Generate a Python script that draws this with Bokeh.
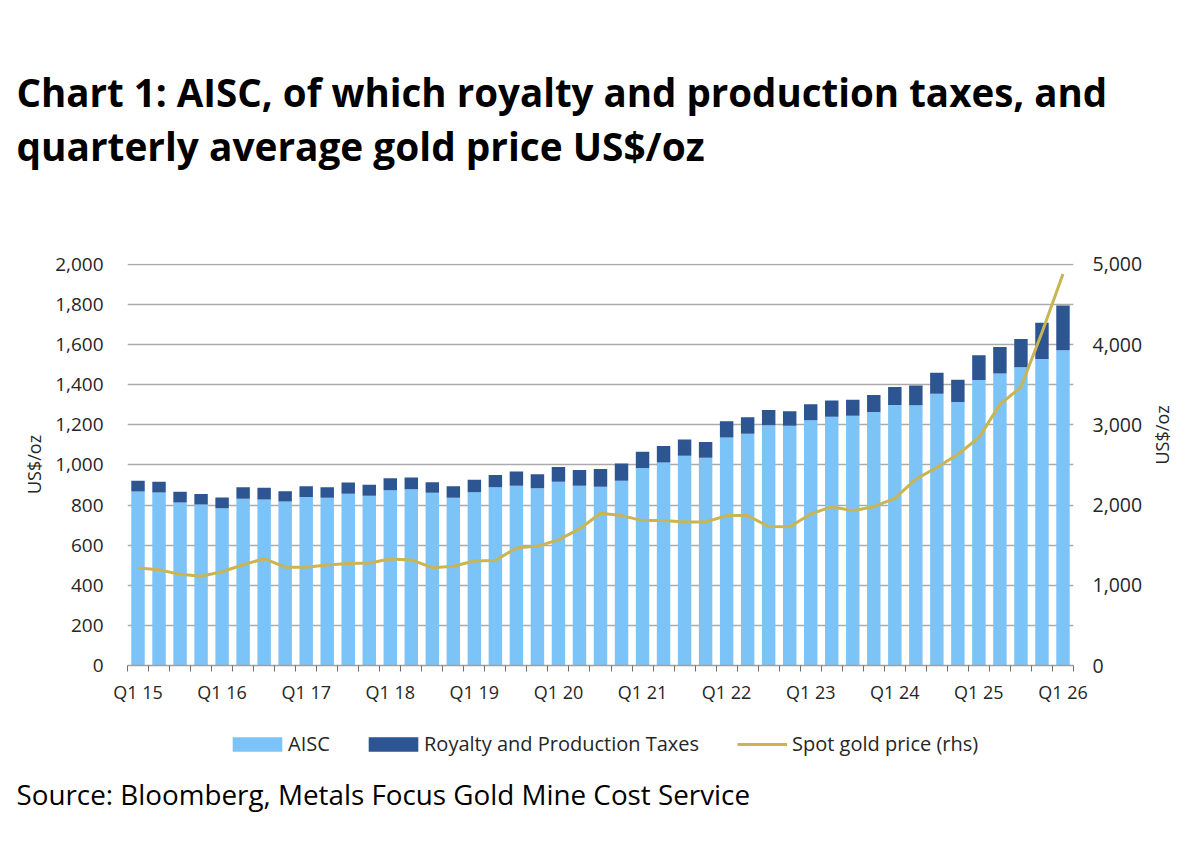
import numpy as np
from bokeh.plotting import figure
from bokeh.layouts import column
from bokeh.models import (ColumnDataSource, Range1d, LinearAxis, FixedTicker,
                          NumeralTickFormatter, Title, Legend, LegendItem)
from bokeh.embed import file_html
from bokeh.resources import INLINE

# quarters Q1 15 .. Q1 26
quarters = [f"Q{q} {y}" for y in range(15, 27) for q in range(1, 5)][:45]

# AISC excluding royalties (US$/oz, lhs)
aisc = [868, 863, 813, 802, 784, 831, 828, 817, 840, 836, 856, 846, 874, 879, 861,
        836, 864, 888, 896, 883, 916, 896, 891, 921, 984, 1012, 1045, 1036, 1136, 1155,
        1198, 1195, 1222, 1240, 1245, 1264, 1298, 1297, 1355, 1313, 1423, 1456, 1487,
        1528, 1572]

# royalty and production taxes (US$/oz, lhs)
royalty = [53, 53, 53, 53, 54, 57, 58, 52, 53, 53, 56, 55, 60, 58, 53,
           57, 62, 62, 71, 71, 74, 79, 88, 86, 81, 82, 82, 78, 81, 83,
           76, 73, 80, 81, 80, 84, 90, 99, 104, 111, 124, 132, 141, 181, 223]

# spot gold price, quarterly average (US$/oz, rhs)
gold = [1215, 1194, 1136, 1112, 1168, 1256, 1331, 1225, 1225, 1252, 1270, 1277, 1327,
        1316, 1219, 1236, 1302, 1310, 1465, 1488, 1566, 1702, 1897, 1868, 1806, 1806,
        1789, 1789, 1868, 1868, 1732, 1730, 1888, 1979, 1929, 1979, 2082, 2322, 2467,
        2633, 2840, 3254, 3470, 4150, 4880]

FONT = "Open Sans"
TXT = "#262626"
C_AISC = "#7CC3F7"
C_ROY = "#2D5592"
C_GOLD = "#C9B553"
W = 1191
BL, BR = 127, 118   # frame borders, shared by both blocks

x = np.arange(len(quarters))
aisc_a = np.array(aisc)
src = ColumnDataSource(data=dict(
    x=x, aisc=aisc_a, top=aisc_a + np.array(royalty), gold=gold))

# ---- main chart (with the two-line title above it)
p = figure(width=W, height=710, x_range=Range1d(-0.5, len(quarters) - 0.5),
           y_range=Range1d(0, 2004), output_backend="svg", toolbar_location=None,
           min_border_left=BL, min_border_right=BR, min_border_top=263,
           min_border_bottom=45, outline_line_color=None)
p.extra_y_ranges = {"gold": Range1d(0, 5010)}

p.vbar(x="x", bottom=0, top="aisc", width=0.64, source=src,
       fill_color=C_AISC, line_color=None)
p.vbar(x="x", bottom="aisc", top="top", width=0.64, source=src,
       fill_color=C_ROY, line_color=None)
p.line(x="x", y="gold", source=src, y_range_name="gold",
       line_color=C_GOLD, line_width=3)

# left axis
ya = p.yaxis[0]
ya.ticker = FixedTicker(ticks=list(range(0, 2001, 200)))
ya.formatter = NumeralTickFormatter(format="0,0")
ya.axis_line_color = None
ya.major_tick_line_color = None
ya.minor_tick_line_color = None
ya.major_label_standoff = 18
ya.major_label_text_font = FONT
ya.major_label_text_font_size = "19px"
ya.major_label_text_color = TXT
ya.axis_label = "US$/oz"
ya.axis_label_standoff = 6
ya.axis_label_text_font = FONT
ya.axis_label_text_font_size = "18px"
ya.axis_label_text_font_style = "normal"
ya.axis_label_text_color = TXT

# right axis
ra = LinearAxis(y_range_name="gold",
                ticker=FixedTicker(ticks=list(range(0, 5001, 1000))),
                formatter=NumeralTickFormatter(format="0,0"))
ra.axis_line_color = None
ra.major_tick_line_color = None
ra.minor_tick_line_color = None
ra.major_label_standoff = 13
ra.major_label_text_font = FONT
ra.major_label_text_font_size = "19.5px"
ra.major_label_text_color = TXT
ra.axis_label = "US$/oz"
ra.axis_label_standoff = 17
ra.axis_label_text_font = FONT
ra.axis_label_text_font_size = "18px"
ra.axis_label_text_font_style = "normal"
ra.axis_label_text_color = TXT
try:
    ra.axis_label_orientation = np.pi / 2
except Exception:
    pass
p.add_layout(ra, "right")

# x axis: labels every Q1, tick marks between bars
xa = p.xaxis[0]
xa.ticker = FixedTicker(ticks=list(range(0, len(quarters), 4)),
                        minor_ticks=[i - 0.5 for i in range(len(quarters) + 1)])
xa.major_label_overrides = {i: quarters[i] for i in range(0, len(quarters), 4)}
xa.axis_line_color = "#A0A0A0"
xa.axis_line_width = 1.5
xa.major_tick_line_color = None
xa.minor_tick_in = 0
xa.minor_tick_out = 6
xa.minor_tick_line_color = "#6E6E6E"
xa.major_label_standoff = 8
xa.major_label_text_font = FONT
xa.major_label_text_font_size = "18px"
xa.major_label_text_color = TXT

p.xgrid.grid_line_color = None
p.ygrid.ticker = FixedTicker(ticks=list(range(200, 2001, 200)))
p.ygrid.grid_line_color = "#ABABAB"
p.ygrid.grid_line_width = 1.5

# title: spacer nearest the frame, then line 2, then line 1
p.add_layout(Title(text=" ", text_font_size="1px", standoff=89), "above")
p.add_layout(Title(text="quarterly average gold price US$/oz", align="left",
                   offset=-111, standoff=0, text_font=FONT, text_font_style="bold",
                   text_font_size="38.8px", text_color="black"), "above")
p.add_layout(Title(text="Chart 1: AISC, of which royalty and production taxes, and",
                   align="left", offset=-111, standoff=0, text_font=FONT,
                   text_font_style="bold", text_font_size="38.5px",
                   text_color="black"), "above")

# ---- legend + source block (legend keys: hidden renderers on the same source)
bot = figure(width=W, height=124, x_range=Range1d(-0.5, len(quarters) - 0.5),
             y_range=Range1d(0, 2004), x_axis_type=None, y_axis_type=None,
             output_backend="svg", toolbar_location=None, min_border_left=BL,
             min_border_right=BR, min_border_top=0, min_border_bottom=62,
             outline_line_color=None)
bot.grid.grid_line_color = None
k_aisc = bot.vbar(x="x", bottom=0, top="aisc", width=0.64, source=src,
                  fill_color=C_AISC, line_color=None, visible=False)
k_roy = bot.vbar(x="x", bottom="aisc", top="top", width=0.64, source=src,
                 fill_color=C_ROY, line_color=None, visible=False)
k_gold = bot.line(x="x", y="gold", source=src, line_color=C_GOLD, line_width=3,
                  visible=False)

for lab, rend, lx, gw, gh, st in [("AISC", k_aisc, 99, 62, 18, 0),
                                  ("Royalty and Production Taxes", k_roy, 235, 62, 18, 0),
                                  ("Spot gold price (rhs)", k_gold, 610, 50, 18, 5)]:
    bot.add_layout(Legend(items=[LegendItem(label=lab, renderers=[rend])],
                          location=(lx, 15), orientation="horizontal",
                          glyph_width=gw, glyph_height=gh, label_standoff=st,
                          padding=0, margin=0, border_line_color=None,
                          background_fill_alpha=0, inactive_fill_alpha=0,
                          label_text_font=FONT, label_text_font_size="20px",
                          label_text_color=TXT))

bot.add_layout(Title(text="Source: Bloomberg, Metals Focus Gold Mine Cost Service",
                     align="left", offset=-111, standoff=0, text_font=FONT,
                     text_font_style="normal", text_font_size="27.8px",
                     text_color="black"), "below")

page = column(p, bot, spacing=0)
open("out.html", "w").write(file_html(page, INLINE))
